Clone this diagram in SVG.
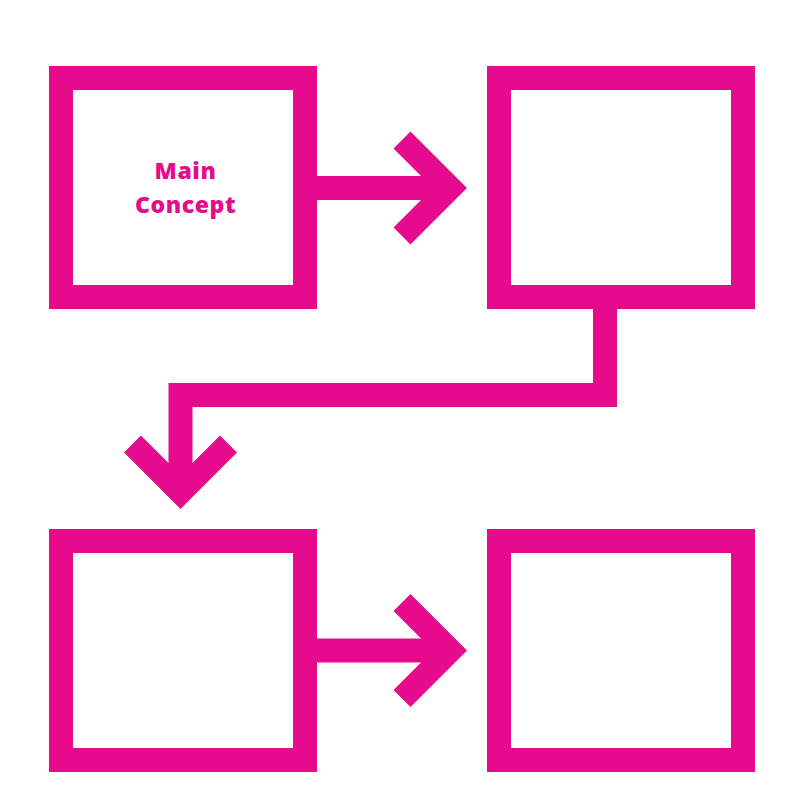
<svg xmlns="http://www.w3.org/2000/svg" width="800" height="800" viewBox="0 0 800 800">
<style>
.box{fill:#fff;stroke:#E50B8C;stroke-width:24;}
.ln{fill:none;stroke:#E50B8C;stroke-width:24;stroke-linejoin:miter;stroke-linecap:butt;}
.lbl{font-family:"Open Sans","Liberation Sans",sans-serif;font-weight:800;font-size:23px;letter-spacing:0.6px;fill:#E50B8C;text-anchor:middle;}
</style>
<rect width="800" height="800" fill="#fff"/>
<g id="connectors">
<line class="ln" x1="317" y1="188" x2="450" y2="188"/>
<polyline class="ln" points="402,140 450,188 402,236"/>
<polyline class="ln" points="605,309 605,395 180.5,395 180.5,492"/>
<polyline class="ln" points="132.5,444 180.5,492 228.5,444"/>
<line class="ln" x1="317" y1="650.5" x2="450" y2="650.5"/>
<polyline class="ln" points="402,602.5 450,650.5 402,698.5"/>
</g>
<g id="node1">
<rect class="box" x="61" y="78" width="244" height="219"/>
<text class="lbl" x="185.5" y="178.5">Main</text>
<text class="lbl" x="185.5" y="212.5">Concept</text>
</g>
<g id="node2"><rect class="box" x="499" y="78" width="244" height="219"/></g>
<g id="node3"><rect class="box" x="61" y="541" width="244" height="219"/></g>
<g id="node4"><rect class="box" x="499" y="541" width="244" height="219"/></g>
</svg>
